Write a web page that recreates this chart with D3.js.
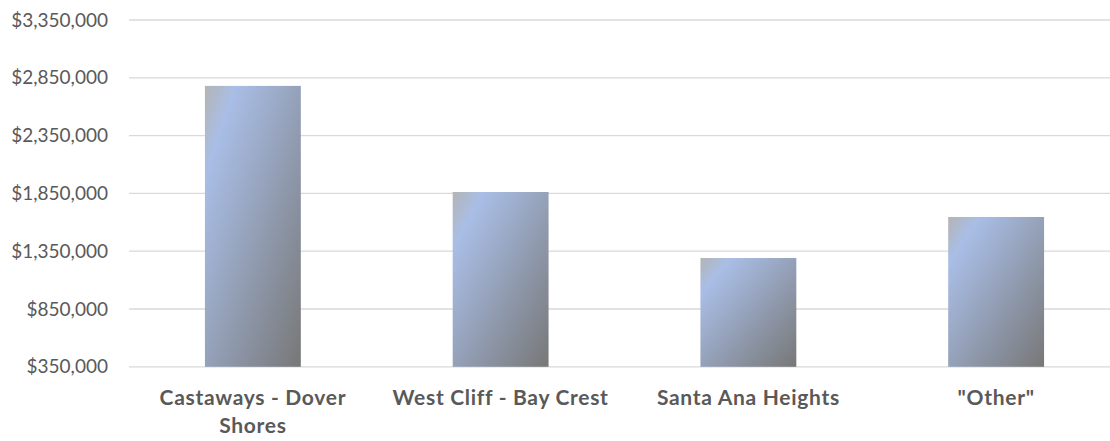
<!DOCTYPE html>
<meta charset="utf-8">
<script src="https://d3js.org/d3.v7.min.js"></script>
<style>
  body { margin: 0; background: #fff; }
  text { font-family: Lato, "Noto Sans", sans-serif; fill: #595959; }
</style>
<div id="chart"></div>
<script>

// data
const categories = ["Castaways - Dover Shores", "West Cliff - Bay Crest", "Santa Ana Heights", "\"Other\""];
const values = [2780000, 1862000, 1291000, 1646000];
const yTicks = [350000, 850000, 1350000, 1850000, 2350000, 2850000, 3350000];

const W = 1110, H = 441;
const margin = {left: 129, right: 1120, top: 20, bottom: 366.8};

const svg = d3.select("#chart").append("svg")
  .attr("width", W)
  .attr("height", H);

// bar gradient
const grad = svg.append("defs").append("linearGradient")
  .attr("id", "barFill")
  .attr("x1", 0).attr("y1", 0).attr("x2", 1).attr("y2", 1);
grad.append("stop").attr("offset", "0").attr("stop-color", "#b4b4b4");
grad.append("stop").attr("offset", "0.16").attr("stop-color", "#a9bee6");
grad.append("stop").attr("offset", "1").attr("stop-color", "#777777");

const x = d3.scaleBand()
  .domain(categories)
  .range([margin.left, margin.right])
  .paddingInner(0.613)
  .paddingOuter(0.3065);

const y = d3.scaleLinear()
  .domain([350000, 3350000])
  .range([margin.bottom, margin.top]);

// gridlines
svg.append("g")
  .selectAll("line")
  .data(yTicks)
  .join("line")
    .attr("x1", margin.left)
    .attr("x2", margin.right)
    .attr("y1", d => y(d))
    .attr("y2", d => y(d))
    .attr("stroke", "#d9d9d9")
    .attr("stroke-width", 1.3);

// y labels
const fmt = d3.format("$,");
svg.append("g")
  .selectAll("text")
  .data(yTicks)
  .join("text")
    .attr("x", 108)
    .attr("y", d => y(d))
    .attr("dy", "0.35em")
    .attr("text-anchor", "end")
    .style("font-size", "19px")
    .text(d => fmt(d));

// bars
svg.append("g")
  .selectAll("rect")
  .data(values)
  .join("rect")
    .attr("x", (d, i) => x(categories[i]))
    .attr("width", x.bandwidth())
    .attr("y", d => y(d))
    .attr("height", d => y(350000) - y(d))
    .attr("fill", "url(#barFill)");

// category labels, wrapped like Excel
const maxW = 235;
const labels = svg.append("g")
  .selectAll("text")
  .data(categories)
  .join("text")
    .attr("x", d => x(d) + x.bandwidth() / 2)
    .attr("y", 405)
    .attr("text-anchor", "middle")
    .style("font-size", "21px")
    .style("letter-spacing", "0.7px")
    .style("font-weight", "bold");

labels.each(function(d) {
  const t = d3.select(this);
  const words = d.split(" ");
  let line = [];
  let ts = t.append("tspan").attr("x", t.attr("x"));
  words.forEach(w => {
    line.push(w);
    ts.text(line.join(" "));
    if (ts.node().getComputedTextLength() > maxW && line.length > 1) {
      line.pop();
      ts.text(line.join(" "));
      line = [w];
      ts = t.append("tspan").attr("x", t.attr("x")).attr("dy", 28).text(w);
    }
  });
});

</script>
